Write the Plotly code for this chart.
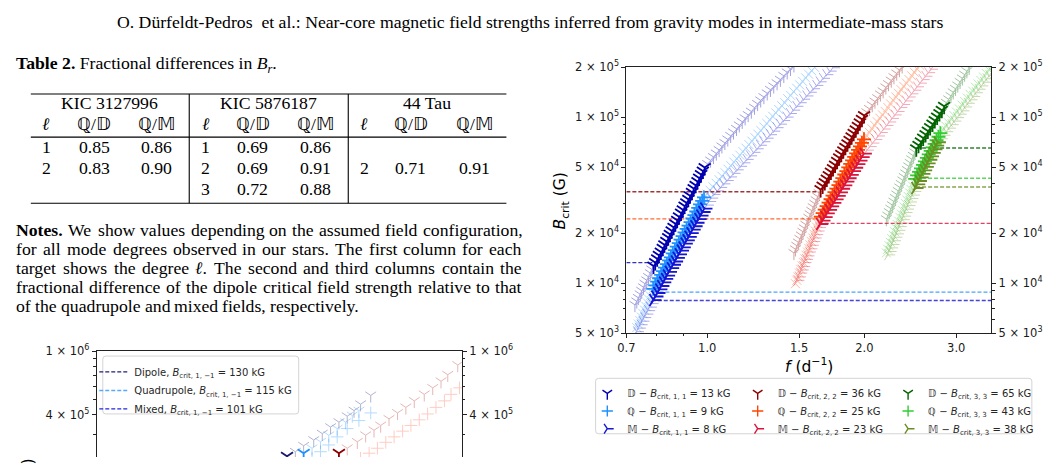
import math
import plotly.graph_objects as go

W, H = 1049, 464
SANS = "DejaVu Sans"
SERIF = "Liberation Serif"


def X(px):
    return px / W


def Y(py):
    return 1 - py / H


# ======================= DATA =======================
# Right panel: mode frequency f (d^-1) and critical field B_crit (kG)
# l = m = 1 (blue)
l1_D_f = [0.727, 0.733, 0.738, 0.744, 0.749, 0.755, 0.760, 0.766, 0.772, 0.778, 0.783, 0.789,
          0.795, 0.802, 0.808, 0.815, 0.822, 0.828, 0.835, 0.842, 0.848, 0.855,
          0.862, 0.869, 0.876, 0.883, 0.891, 0.898, 0.905, 0.912, 0.920, 0.927,
          0.935, 0.942, 0.950, 0.958, 0.965, 0.973, 0.981, 0.989,
          1.002, 1.015, 1.028, 1.041, 1.054, 1.067, 1.081, 1.095, 1.109, 1.123,
          1.138, 1.152, 1.167, 1.182, 1.198, 1.215, 1.232, 1.249, 1.266, 1.284,
          1.303, 1.322, 1.341, 1.361, 1.381, 1.402, 1.423, 1.444, 1.466]
l1_D_B = [7.4, 7.77, 8.16, 8.57, 9.0, 9.45, 9.92, 10.4, 10.9, 11.5, 12.1, 12.7,
          13.3, 14.0, 14.7, 15.4, 16.2, 17.0, 17.9, 18.8, 19.7, 20.7,
          21.7, 22.8, 23.9, 25.1, 26.4, 27.7, 29.1, 30.5, 32.0, 33.6,
          35.3, 37.1, 38.9, 40.9, 42.9, 45.1, 47.3, 49.7,
          52.2, 54.8, 57.5, 60.4, 63.4, 66.6, 69.9, 73.4, 77.1, 80.9,
          85.0, 89.2, 93.7, 98.4, 103, 108, 114, 120, 126, 132,
          139, 146, 153, 160, 168, 177, 186, 195, 205]
l1_D_obs = (11, 40)

l1_Q_f = [0.733, 0.738, 0.743, 0.748, 0.753, 0.758, 0.763, 0.768, 0.773, 0.778, 0.783, 0.788,
          0.795, 0.802, 0.809, 0.816, 0.823, 0.830, 0.837, 0.845, 0.852, 0.859,
          0.867, 0.874, 0.882, 0.889, 0.897, 0.905, 0.913, 0.921, 0.929, 0.937,
          0.945, 0.953, 0.961, 0.969, 0.978, 0.986,
          0.999, 1.013, 1.026, 1.040, 1.054, 1.067, 1.082, 1.096, 1.110, 1.125,
          1.140, 1.155, 1.171, 1.186, 1.202, 1.218, 1.234, 1.250, 1.267, 1.284,
          1.301, 1.318, 1.335, 1.353, 1.371, 1.389, 1.408, 1.426, 1.445, 1.464,
          1.484, 1.504, 1.523, 1.544, 1.564, 1.585, 1.606]
l1_Q_B = [5.4, 5.67, 5.95, 6.25, 6.56, 6.89, 7.24, 7.6, 7.98, 8.38, 8.8, 9.24,
          9.70, 10.2, 10.7, 11.2, 11.8, 12.4, 13.0, 13.7, 14.3, 15.1,
          15.8, 16.6, 17.4, 18.3, 19.2, 20.2, 21.2, 22.2, 23.3, 24.5,
          25.7, 27.0, 28.4, 29.8, 31.3, 32.8,
          34.4, 36.2, 38.0, 39.9, 41.9, 44.0, 46.2, 48.5, 50.9, 53.5,
          56.1, 58.9, 61.9, 65.0, 68.2, 71.6, 75.2, 79.0, 82.9, 87.1,
          91.4, 96.0, 101, 106, 111, 117, 122, 129, 135, 142,
          149, 156, 164, 172, 181, 190, 199]
l1_Q_obs = (11, 38)

l1_M_f = [0.733, 0.739, 0.745, 0.751, 0.757, 0.764, 0.770, 0.776, 0.782, 0.789,
          0.796, 0.803, 0.810, 0.817, 0.824, 0.831, 0.838, 0.845, 0.853, 0.860,
          0.868, 0.875, 0.883, 0.891, 0.898, 0.906, 0.914, 0.922, 0.930, 0.938,
          0.946, 0.954, 0.963, 0.971, 0.980, 0.988,
          0.998, 1.008, 1.017, 1.027,
          1.043, 1.058, 1.073, 1.089, 1.105, 1.122, 1.138, 1.155, 1.172, 1.189,
          1.207, 1.225, 1.243, 1.261, 1.280, 1.299, 1.318, 1.337, 1.357, 1.377,
          1.397, 1.418, 1.439, 1.460, 1.481, 1.503, 1.525, 1.548, 1.571, 1.594,
          1.617, 1.641, 1.665, 1.690, 1.715, 1.740]
l1_M_B = [5.1, 5.36, 5.62, 5.9, 6.2, 6.51, 6.83, 7.17, 7.53, 7.91,
          8.31, 8.72, 9.16, 9.61, 10.1, 10.6, 11.1, 11.7, 12.3, 12.9,
          13.5, 14.2, 14.9, 15.7, 16.4, 17.3, 18.1, 19.0, 20.0, 21.0,
          22.0, 23.1, 24.3, 25.5, 26.8, 28.1,
          29.5, 31.0, 32.5, 34.2,
          35.9, 37.7, 39.6, 41.5, 43.6, 45.8, 48.1, 50.5, 53.0, 55.6,
          58.4, 61.3, 64.4, 67.6, 71.0, 74.6, 78.3, 82.2, 86.3, 90.6,
          95.2, 99.9, 105, 110, 116, 122, 128, 134, 141, 148,
          155, 163, 171, 180, 189, 198]
l1_M_obs = (9, 36)

# l = m = 2 (red)
l2_D_f = [1.466, 1.476, 1.485, 1.495, 1.505, 1.515, 1.525, 1.535, 1.545, 1.555,
          1.565, 1.575, 1.586, 1.596, 1.607, 1.617, 1.628, 1.638, 1.649,
          1.664, 1.680, 1.695, 1.710, 1.726, 1.742, 1.758, 1.774, 1.790, 1.807,
          1.823, 1.840, 1.857, 1.874, 1.891, 1.908, 1.926, 1.944, 1.961, 1.979, 1.998,
          2.022, 2.046, 2.071, 2.096, 2.121, 2.147, 2.173, 2.199, 2.225, 2.252,
          2.279, 2.307, 2.335, 2.363]
l2_D_B = [15.2, 16.0, 16.8, 17.6, 18.5, 19.4, 20.4, 21.4, 22.5, 23.6,
          24.8, 26.0, 27.3, 28.7, 30.1, 31.6, 33.2, 34.9, 36.6,
          38.4, 40.3, 42.4, 44.5, 46.7, 49.0, 51.5, 54.1, 56.8, 59.6,
          62.6, 65.7, 69.0, 72.5, 76.1, 79.9, 83.9, 88.1, 92.5, 97.1, 102,
          107, 112, 118, 124, 130, 137, 143, 151, 158, 166,
          174, 183, 192, 202]
l2_D_obs = (18, 40)

l2_Q_f = [1.476, 1.485, 1.493, 1.502, 1.511, 1.520, 1.529, 1.538, 1.547, 1.556,
          1.565, 1.574, 1.583, 1.593, 1.602, 1.611, 1.621, 1.630, 1.640, 1.650,
          1.664, 1.679, 1.693, 1.708, 1.723, 1.738, 1.753, 1.768, 1.784, 1.799,
          1.815, 1.831, 1.847, 1.863, 1.879, 1.895, 1.912, 1.929, 1.945, 1.962,
          1.979, 1.997,
          2.020, 2.044, 2.068, 2.092, 2.117, 2.142, 2.167, 2.193, 2.219, 2.245,
          2.271, 2.298, 2.325, 2.352, 2.380, 2.408, 2.436, 2.465, 2.494, 2.523, 2.553]
l2_Q_B = [9.92, 10.4, 10.9, 11.5, 12.1, 12.7, 13.3, 14.0, 14.7, 15.4,
          16.2, 17.0, 17.8, 18.7, 19.7, 20.6, 21.7, 22.8, 23.9, 25.1,
          26.4, 27.7, 29.1, 30.5, 32.0, 33.6, 35.3, 37.1, 38.9, 40.9,
          42.9, 45.1, 47.3, 49.7, 52.2, 54.8, 57.5, 60.4, 63.4, 66.6,
          69.9, 73.4,
          77.1, 80.9, 85.0, 89.2, 93.7, 98.4, 103, 108, 114, 120,
          126, 132, 139, 146, 153, 160, 168, 177, 186, 195, 205]
l2_Q_obs = (19, 42)

l2_M_f = [1.487, 1.497, 1.506, 1.516, 1.526, 1.535, 1.545, 1.555, 1.565, 1.575,
          1.585, 1.595, 1.605, 1.616, 1.626, 1.637, 1.647,
          1.663, 1.679, 1.695, 1.712, 1.728, 1.745, 1.762, 1.779, 1.796, 1.813,
          1.831, 1.848, 1.866, 1.884, 1.903, 1.921, 1.940, 1.958, 1.977, 1.996,
          2.021, 2.046, 2.071, 2.097, 2.123, 2.149, 2.176, 2.203, 2.230, 2.257,
          2.285, 2.314, 2.342, 2.371, 2.400, 2.430, 2.460, 2.491, 2.521, 2.553,
          2.584, 2.616, 2.648, 2.681, 2.714]
l2_M_B = [10.4, 10.9, 11.5, 12.0, 12.6, 13.3, 13.9, 14.6, 15.4, 16.1,
          16.9, 17.8, 18.7, 19.6, 20.6, 21.6, 22.7,
          23.8, 25.0, 26.3, 27.6, 29.0, 30.4, 31.9, 33.5, 35.2, 37.0,
          38.8, 40.8, 42.8, 44.9, 47.2, 49.5, 52.0, 54.6, 57.4, 60.2,
          63.2, 66.4, 69.7, 73.2, 76.9, 80.7, 84.7, 89.0, 93.4, 98.1,
          103, 108, 114, 119, 125, 132, 138, 145, 152, 160,
          168, 176, 185, 194, 204]
l2_M_obs = (16, 37)

# l = m = 3 (green)
l3_D_f = [2.204, 2.219, 2.233, 2.248, 2.263, 2.278, 2.293, 2.308, 2.323, 2.339,
          2.354, 2.370, 2.385, 2.401, 2.417, 2.433, 2.449, 2.465, 2.482, 2.498, 2.515,
          2.540, 2.567, 2.593, 2.620, 2.647, 2.674, 2.702, 2.729, 2.758, 2.786, 2.815, 2.844,
          2.872, 2.901, 2.931, 2.960, 2.990, 3.020, 3.051, 3.082, 3.113, 3.144, 3.176]
l3_D_B = [24.3, 25.5, 26.8, 28.1, 29.5, 31.0, 32.6, 34.2, 35.9, 37.7,
          39.6, 41.6, 43.6, 45.8, 48.1, 50.5, 53.0, 55.7, 58.5, 61.4, 64.5,
          67.7, 71.1, 74.7, 78.4, 82.3, 86.4, 90.8, 95.3, 100, 105, 110, 116,
          122, 128, 134, 141, 148, 155, 163, 171, 180, 189, 198]
l3_D_obs = (20, 33)

l3_Q_f = [2.204, 2.217, 2.231, 2.244, 2.258, 2.272, 2.286, 2.299, 2.313, 2.327,
          2.342, 2.356, 2.370, 2.384, 2.399, 2.413, 2.428, 2.443, 2.458, 2.473,
          2.488, 2.503,
          2.524, 2.546, 2.568, 2.590, 2.612, 2.635, 2.657, 2.680, 2.703, 2.727, 2.750, 2.774, 2.797,
          2.831, 2.865, 2.899, 2.934, 2.969, 3.004, 3.040, 3.077, 3.114, 3.151,
          3.188, 3.227, 3.265, 3.304, 3.344, 3.384, 3.424, 3.465, 3.507]
l3_Q_B = [15.2, 16.0, 16.8, 17.6, 18.5, 19.4, 20.4, 21.4, 22.5, 23.6,
          24.8, 26.0, 27.3, 28.7, 30.1, 31.6, 33.2, 34.9, 36.6, 38.4,
          40.4, 42.4,
          44.5, 46.7, 49.1, 51.5, 54.1, 56.8, 59.6, 62.6, 65.7, 69.0, 72.5, 76.1, 79.9,
          83.9, 88.1, 92.5, 97.1, 102, 107, 112, 118, 124, 130,
          137, 143, 151, 158, 166, 174, 183, 192, 202]
l3_Q_obs = (21, 35)

l3_M_f = [2.220, 2.234, 2.249, 2.263, 2.278, 2.292, 2.307, 2.322, 2.336, 2.351,
          2.367, 2.382, 2.397, 2.412, 2.428, 2.443, 2.459, 2.475, 2.491, 2.507,
          2.526, 2.545, 2.564, 2.584, 2.604, 2.624, 2.644, 2.664, 2.684, 2.705, 2.725, 2.746, 2.767,
          2.800, 2.834, 2.868, 2.902, 2.937, 2.972, 3.008, 3.044, 3.080, 3.117,
          3.154, 3.192, 3.230, 3.269, 3.308, 3.348, 3.388, 3.428, 3.469, 3.511, 3.553]
l3_M_B = [14.8, 15.5, 16.3, 17.1, 18.0, 18.9, 19.8, 20.8, 21.9, 23.0,
          24.1, 25.3, 26.6, 27.9, 29.3, 30.8, 32.3, 33.9, 35.6, 37.4,
          39.3, 41.2, 43.3, 45.5, 47.7, 50.1, 52.6, 55.3, 58.0, 60.9, 64.0, 67.2, 70.5,
          74.0, 77.7, 81.6, 85.7, 90.0, 94.5, 99.2, 104, 109, 115,
          121, 127, 133, 140, 147, 154, 162, 170, 178, 187, 197]
l3_M_obs = (19, 33)

# Critical-field reference lines (kG) and the frequency span of each dashed line
crit_keys = ["D1", "Q1", "M1", "D2", "Q2", "M2", "D3", "Q3", "M3"]
crit_B = [13.3, 8.83, 7.86, 35.5, 24.4, 22.9, 65.1, 42.8, 37.9]
crit_f0 = [0.70, 0.789, 0.783, 0.70, 0.70, 1.635, 2.513, 2.513, 2.513]
crit_f1 = [0.785, 3.5, 3.5, 1.635, 1.635, 3.5, 3.5, 3.5, 3.5]
crit_label_kG = [13, 9, 8, 36, 25, 23, 65, 43, 38]

# Lower-left panel (only its top part is on the page)
low_D1_f = [1.272, 1.325, 1.380, 1.450, 1.512, 1.575, 1.641, 1.709, 1.767, 1.825, 1.918]
low_D1_B = [219, 234, 255, 277, 304, 334, 359, 391, 424, 465, 528]
low_M1_f = [1.380, 1.438, 1.499, 1.561, 1.627, 1.695, 1.752, 1.810]
low_M1_B = [229, 246, 270, 297, 327, 359, 395, 424]
low_Q1_f = [1.438, 1.499, 1.561, 1.627, 1.709, 1.810, 1.918]
low_Q1_B = [213, 234, 258, 290, 327, 367, 410]
low_D2_f = [1.641, 1.709, 1.796, 1.871, 1.949, 2.014, 2.098, 2.188, 2.279, 2.375, 2.494, 2.600, 2.708, 2.799, 2.940]
low_D2_B = [229, 246, 270, 297, 319, 342, 376, 410, 444, 488, 536, 589, 648, 712, 820]
low_Q2_f = [1.825, 1.903, 1.982, 2.065, 2.151, 2.243, 2.336, 2.434, 2.536, 2.642, 2.754, 2.844, 2.965]
low_Q2_B = [213, 229, 246, 268, 290, 315, 342, 371, 404, 444, 488, 536, 589]
low_obs = {"D1": (0, 1), "M1": (0, 1), "Q1": (0, 0), "D2": (0, 1), "Q2": (0, 0)}
low_crit_names = ["Dipole", "Quadrupole", "Mixed"]
low_crit_kG = [130, 115, 101]

# Table 2
tbl_targets = ["KIC 3127996", "KIC 5876187", "44 Tau"]
tbl_l = [[1, 2], [1, 2, 3], [2]]
tbl_QD = [[0.85, 0.83], [0.69, 0.69, 0.72], [0.71]]
tbl_QM = [[0.86, 0.90], [0.86, 0.91, 0.88], [0.91]]
tbl_row = [[0, 1], [0, 1, 2], [1]]

# Axis ticks
main_x_ticks = [0.7, 1.0, 1.5, 2.0, 3.0]
main_x_text = ["0.7", "1.0", "1.5", "2.0", "3.0"]
main_x_minor = [0.8, 0.9]
main_y_ticks = [5e3, 1e4, 2e4, 5e4, 1e5, 2e5]
main_y_text = ["5 × 10<sup>3</sup>", "1 × 10<sup>4</sup>", "2 × 10<sup>4</sup>",
               "5 × 10<sup>4</sup>", "1 × 10<sup>5</sup>", "2 × 10<sup>5</sup>"]
main_y_minor = [6e3, 7e3, 8e3, 9e3, 3e4, 4e4, 6e4, 7e4, 8e4, 9e4]
low_y_ticks = [4e5, 1e6]
low_y_text = ["4 × 10<sup>5</sup>", "1 × 10<sup>6</sup>"]
low_y_minor = [3e5, 5e5, 6e5, 7e5, 8e5, 9e5]

# ======================= STYLE =======================
COL = {"D1": "#0000b0", "Q1": "#1e90ff", "M1": "#1515d5",
       "D2": "#8b0000", "Q2": "#ff4500", "M2": "#dc143c",
       "D3": "#006400", "Q3": "#32cd32", "M3": "#6b8e23"}
FADED_SYM = {"D": "y-down", "Q": "x-thin", "M": "y-right"}
BOLD_SYM = {"D": "y-down", "Q": "cross-thin", "M": "y-right"}
DBL = {"D": "𝔻", "Q": "ℚ", "M": "𝕄"}

right_series = [
    ("D", "1", l1_D_f, l1_D_B, l1_D_obs), ("Q", "1", l1_Q_f, l1_Q_B, l1_Q_obs), ("M", "1", l1_M_f, l1_M_B, l1_M_obs),
    ("D", "2", l2_D_f, l2_D_B, l2_D_obs), ("Q", "2", l2_Q_f, l2_Q_B, l2_Q_obs), ("M", "2", l2_M_f, l2_M_B, l2_M_obs),
    ("D", "3", l3_D_f, l3_D_B, l3_D_obs), ("Q", "3", l3_Q_f, l3_Q_B, l3_Q_obs), ("M", "3", l3_M_f, l3_M_B, l3_M_obs),
]
for kind, l, f, B, obs in right_series:
    assert len(f) == len(B), (kind, l, len(f), len(B))

fig = go.Figure()

# faded full model tracks
for kind, l, f, B, obs in right_series:
    c = COL[kind + l]
    fig.add_trace(go.Scatter(
        x=f, y=[b * 1e3 for b in B], xaxis="x", yaxis="y",
        mode="lines+markers" if kind == "D" else "markers",
        line=dict(color=c, width=0.8),
        marker=dict(symbol=FADED_SYM[kind], size=9, color=c, line=dict(color=c, width=1)),
        opacity=0.36, showlegend=False, hoverinfo="skip"))

# dashed critical-field lines
for key, b, f0, f1 in zip(crit_keys, crit_B, crit_f0, crit_f1):
    fig.add_trace(go.Scatter(
        x=[f0, f1], y=[b * 1e3, b * 1e3], xaxis="x", yaxis="y2", mode="lines",
        line=dict(color=COL[key], width=1.3, dash="4px,2px"), opacity=0.8,
        showlegend=False, hoverinfo="skip"))

# observed modes (bold)
for kind, l, f, B, obs in right_series:
    c = COL[kind + l]
    a, e = obs
    fig.add_trace(go.Scatter(
        x=f[a:e], y=[b * 1e3 for b in B[a:e]], xaxis="x", yaxis="y2", mode="markers",
        marker=dict(symbol=BOLD_SYM[kind], size=10, color=c, line=dict(color=c, width=1.8)),
        showlegend=False, hoverinfo="skip"))

# legend entries of the right panel (one legend per entry for exact placement)
leg_col_x = [603.3, 755.0, 906.7]
leg_row_y = [392.7, 411.0, 429.3]
legends = {}
LEG_FONT = dict(family=SANS, size=10, color="#262626")
n = 0
for ci, l in enumerate(["1", "2", "3"]):
    for ri, kind in enumerate(["D", "Q", "M"]):
        n += 1
        lid = "legend" if n == 1 else "legend%d" % n
        key = kind + l
        val = crit_label_kG[crit_keys.index(key)]
        c = COL[key]
        fig.add_trace(go.Scatter(
            x=[None], y=[None], xaxis="x", yaxis="y", mode="markers",
            marker=dict(symbol=BOLD_SYM[kind], size=8, color=c, line=dict(color=c, width=1.4)),
            name="%s − <i>B</i><sub>crit, %s, %s</sub> = %d kG" % (DBL[kind], l, l, val),
            legend=lid, showlegend=True))
        legends[lid] = dict(x=X(leg_col_x[ci] - 20), y=Y(leg_row_y[ri] - 9.5), xanchor="left", yanchor="top",
                            bgcolor="rgba(0,0,0,0)", borderwidth=0, font=LEG_FONT, itemwidth=30,
                            tracegroupgap=0)

# ---------------- lower-left panel ----------------
low_series = [("D1", low_D1_f, low_D1_B, "#191970", "y-down"),
              ("M1", low_M1_f, low_M1_B, "#1e90ff", "y-down"),
              ("Q1", low_Q1_f, low_Q1_B, "#1e90ff", "cross-thin"),
              ("D2", low_D2_f, low_D2_B, "#b22222", "y-down"),
              ("Q2", low_Q2_f, low_Q2_B, "#ff6347", "cross-thin")]
for key, f, B, c, sym in low_series:
    fig.add_trace(go.Scatter(
        x=f, y=[b * 1e3 for b in B], xaxis="x2", yaxis="y3", mode="markers",
        marker=dict(symbol=sym, size=9, color=c, line=dict(color=c, width=1)),
        opacity=0.33, showlegend=False, hoverinfo="skip"))
for key, f, B, c, sym in low_series:
    a, e = low_obs[key]
    if e > a:
        dark = {"D1": "#191970", "M1": "#1e90ff", "D2": "#8b0000"}[key]
        fig.add_trace(go.Scatter(
            x=f[a:e], y=[b * 1e3 for b in B[a:e]], xaxis="x2", yaxis="y4", mode="markers",
            marker=dict(symbol=sym, size=10, color=dark, line=dict(color=dark, width=1.8)),
            showlegend=False, hoverinfo="skip"))

low_line_col = ["#1f1f7a", "#55aaff", "#2525e0"]
low_row_y = [370.5, 389.8, 408.7]
for i, (nm, kg, c) in enumerate(zip(low_crit_names, low_crit_kG, low_line_col)):
    lid = "legend%d" % (10 + i)
    fig.add_trace(go.Scatter(
        x=[0.5, 3.0], y=[kg * 1e3, kg * 1e3], xaxis="x2", yaxis="y4", mode="lines",
        line=dict(color=c, width=1.3, dash="4px,2px"),
        name="%s, <i>B</i><sub>crit, 1, −1</sub> = %d kG" % (nm, kg),
        legend=lid, showlegend=True, hoverinfo="skip"))
    legends[lid] = dict(x=X(86.0), y=Y(low_row_y[i] - 9.5), xanchor="left", yanchor="top",
                        bgcolor="rgba(0,0,0,0)", borderwidth=0, font=LEG_FONT, itemwidth=30,
                        tracegroupgap=0)

# ======================= AXES =======================
TICKFONT = dict(family=SANS, size=11.5, color="#1a1a1a")
common = dict(showgrid=False, zeroline=False, ticks="outside", ticklen=4, tickwidth=1, tickcolor="#222",
              tickfont=TICKFONT, linecolor="#222", linewidth=1)
minor_common = dict(ticks="outside", ticklen=2.3, tickwidth=0.8, tickcolor="#222", showgrid=False)

yrange_main = [math.log10(5e3), math.log10(2e5)]
yrange_low = [6 - (464 - 354.7) / 164.6, 6.0]

fig.update_layout(
    width=W, height=H, margin=dict(l=0, r=0, t=0, b=0), autosize=False,
    paper_bgcolor="white", plot_bgcolor="white", showlegend=True,
    xaxis=dict(common, domain=[X(622.7), X(990.7)], anchor="y", type="log",
               range=[math.log10(0.7), math.log10(3.5)], tickmode="array",
               tickvals=main_x_ticks, ticktext=main_x_text, showline=True, mirror=True,
               minor=dict(minor_common, tickmode="array", tickvals=main_x_minor)),
    yaxis=dict(common, domain=[Y(336), Y(61)], anchor="x", type="log", range=yrange_main,
               tickmode="array", tickvals=main_y_ticks, ticktext=main_y_text, showline=True, mirror=True,
               minor=dict(minor_common, tickmode="array", tickvals=main_y_minor)),
    yaxis2=dict(common, overlaying="y", anchor="x", side="right", type="log", range=yrange_main,
                tickmode="array", tickvals=main_y_ticks, ticktext=main_y_text, showline=False,
                minor=dict(minor_common, tickmode="array", tickvals=main_y_minor)),
    xaxis2=dict(common, domain=[X(88.5), X(456.8)], anchor="y3", side="top", type="log",
                range=[math.log10(0.5), math.log10(3.0)], showline=True, ticks="",
                showticklabels=False),
    yaxis3=dict(common, domain=[0, Y(354.7)], anchor="x2", type="log", range=yrange_low,
                tickmode="array", tickvals=low_y_ticks, ticktext=low_y_text, showline=True, mirror=True,
                minor=dict(minor_common, tickmode="array", tickvals=low_y_minor)),
    yaxis4=dict(common, overlaying="y3", anchor="x2", side="right", type="log", range=yrange_low,
                tickmode="array", tickvals=low_y_ticks, ticktext=low_y_text, showline=False,
                minor=dict(minor_common, tickmode="array", tickvals=low_y_minor)),
    **legends,
)

# ======================= SHAPES (legend frames, table rules) =======================


def rounded_rect(x0, y0, x1, y1, r):
    def p(x, y):
        return "%.5f,%.5f" % (X(x), Y(y))
    return ("M" + p(x0 + r, y0) + " L" + p(x1 - r, y0) + " Q" + p(x1, y0) + " " + p(x1, y0 + r) +
            " L" + p(x1, y1 - r) + " Q" + p(x1, y1) + " " + p(x1 - r, y1) +
            " L" + p(x0 + r, y1) + " Q" + p(x0, y1) + " " + p(x0, y1 - r) +
            " L" + p(x0, y0 + r) + " Q" + p(x0, y0) + " " + p(x0 + r, y0) + " Z")


shapes = [
    dict(type="path", xref="paper", yref="paper", path=rounded_rect(591.7, 382.7, 1031.7, 440.0, 3),
         line=dict(color="#d4d4d4", width=1), fillcolor="white", layer="below"),
    dict(type="path", xref="paper", yref="paper", path=rounded_rect(94.6, 359.7, 292.2, 419.5, 3),
         line=dict(color="#d4d4d4", width=1), fillcolor="rgba(255,255,255,0.85)", layer="above"),
]
for yy in [88.9, 133.4, 201.7]:
    shapes.append(dict(type="line", xref="paper", yref="paper", x0=X(22.0), x1=X(501.7), y0=Y(yy), y1=Y(yy),
                       line=dict(color="black", width=1.1)))
for xx in [181.8, 342.2]:
    shapes.append(dict(type="line", xref="paper", yref="paper", x0=X(xx), x1=X(xx), y0=Y(88.9), y1=Y(201.7),
                       line=dict(color="black", width=1.1)))
fig.update_layout(shapes=shapes)

# ======================= TEXT =======================
ann = []
SERIF_FS = 17.7


def text(x, y, s, size=SERIF_FS, family=SERIF, anchor="left", angle=0, color="black"):
    ann.append(dict(x=X(x), y=Y(y), xref="paper", yref="paper", text=s, showarrow=False,
                    xanchor=anchor, yanchor="middle", textangle=angle, borderpad=0, borderwidth=0,
                    font=dict(family=family, size=size, color=color)))


# axis titles
text(556.7, 199, "<i>B</i><sub>crit</sub> (G)", size=15.5, family=SANS, anchor="center", angle=-90)
text(806.7, 369, "<i>f</i> (d<sup>−1</sup>)", size=15.5, family=SANS, anchor="center")
text(20.0, 495, "<i>B</i><sub>crit</sub> (G)", size=15.5, family=SANS, anchor="center", angle=-90)

# running head and table caption
text(108.8, 14.2, "O. Dürfeldt-Pedros\u00a0 et al.: Near-core magnetic field strengths inferred from gravity modes in intermediate-mass stars")
text(7.4, 58.0, "<b>Table 2.</b> Fractional differences in <i>B<sub>r</sub></i>.")

# table body
grp_center = [101.4, 261.8, 421.6]
grp_cols = [[37.8, 86.1, 148.6], [198.6, 246.0, 309.0], [358.1, 405.4, 469.6]]
row_y = [143.6, 165.5, 187.5]
for g in range(3):
    text(grp_center[g], 98.0, tbl_targets[g], anchor="center")
    for cx, h in zip(grp_cols[g], ["<i>ℓ</i>", "ℚ/𝔻", "ℚ/𝕄"]):
        text(cx, 120.0, h, anchor="center")
    for l, qd, qm, r in zip(tbl_l[g], tbl_QD[g], tbl_QM[g], tbl_row[g]):
        text(grp_cols[g][0], row_y[r], str(l), anchor="center")
        text(grp_cols[g][1], row_y[r], "%.2f" % qd, anchor="center")
        text(grp_cols[g][2], row_y[r], "%.2f" % qm, anchor="center")

# justified notes paragraph (word positions from Times metrics)
TW = {}
for ch, w in zip("abcdefghijklmnopqrstuvwxyz",
                 [444, 500, 444, 500, 444, 333, 500, 500, 278, 278, 500, 278, 778, 500, 500, 500, 500, 333, 389,
                  278, 500, 500, 722, 500, 500, 444]):
    TW[ch] = w
for ch, w in zip("ABCDEFGHIJKLMNOPQRSTUVWXYZ",
                 [722, 667, 667, 722, 611, 556, 722, 722, 333, 389, 722, 611, 889, 722, 722, 556, 722, 667, 556,
                  611, 722, 722, 944, 722, 722, 611]):
    TW[ch] = w
TW.update({",": 250, ".": 250, ":": 278, ";": 278, "-": 333, "ℓ": 420})
TWB = {"N": 722, "o": 500, "t": 333, "e": 444, "s": 389, ".": 250}


def word_width(wd):
    bold = "<b>" in wd
    plain = wd.replace("<b>", "").replace("</b>", "").replace("<i>", "").replace("</i>", "")
    tot = 0
    for ch in plain:
        tot += (TWB.get(ch, TW.get(ch, 500)) if bold else TW.get(ch, 500))
    return tot / 1000.0 * SERIF_FS


notes = [
    ["<b>Notes.</b>", "We", "show", "values", "depending", "on", "the", "assumed", "field", "configuration,"],
    ["for", "all", "mode", "degrees", "observed", "in", "our", "stars.", "The", "first", "column", "for", "each"],
    ["target", "shows", "the", "degree", "<i>ℓ</i>.", "The", "second", "and", "third", "columns", "contain", "the"],
    ["fractional", "difference", "of", "the", "dipole", "critical", "field", "strength", "relative", "to", "that"],
    ["of", "the", "quadrupole", "and", "mixed", "fields,", "respectively."],
]
notes_y = [229.7, 249.0, 268.6, 288.2, 308.1]
left_x, right_x = 7.4, 516.9
for li, (words, yy) in enumerate(zip(notes, notes_y)):
    widths = [word_width(w) for w in words]
    if li < len(notes) - 1:
        gap = (right_x - left_x - sum(widths)) / (len(words) - 1)
    else:
        gap = 0.25 * SERIF_FS
    xx = left_x
    for w, wd in zip(words, widths):
        text(xx, yy, w)
        xx += wd + gap

fig.update_layout(annotations=ann)

fig.write_html("out.html", config={"displayModeBar": False})
